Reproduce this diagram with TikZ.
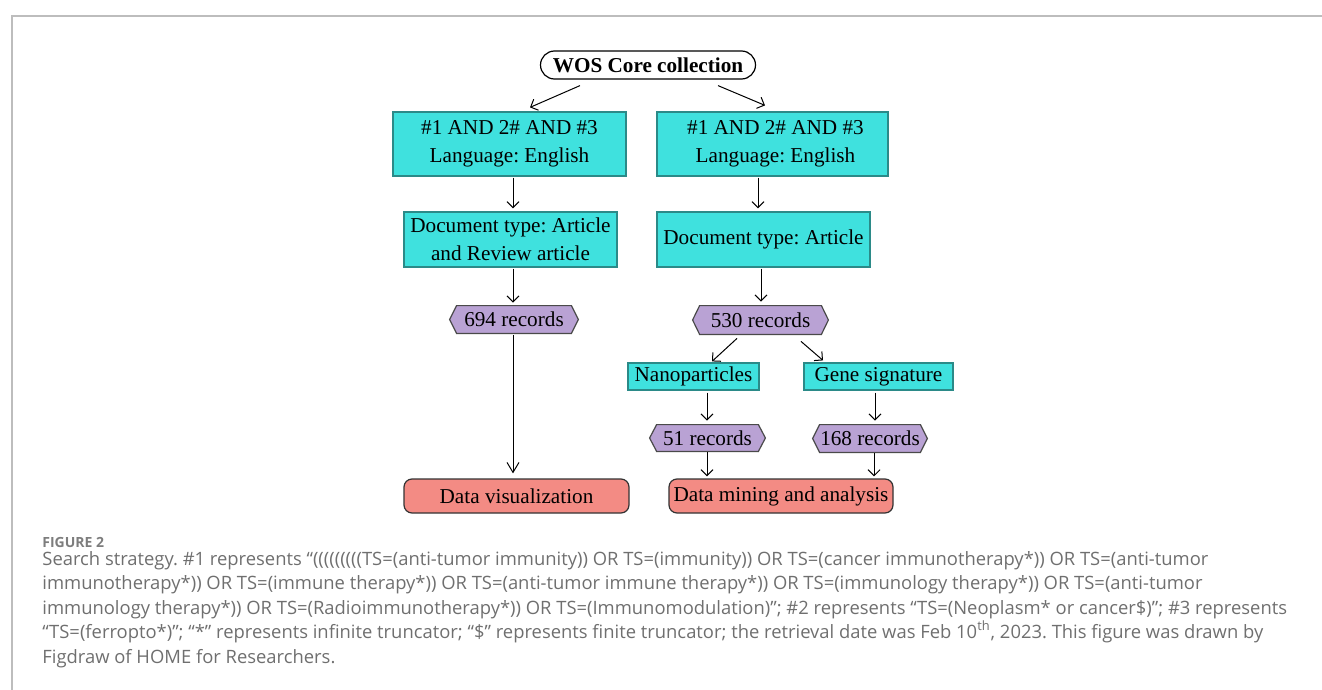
\documentclass[tikz,border=0pt]{standalone}
\usepackage{fontspec}
\setmainfont{Liberation Serif}
\newfontfamily\capfont{Open Sans}
\usetikzlibrary{arrows.meta,calc}
\definecolor{cyanfill}{HTML}{3FE1DE}
\definecolor{cyanline}{HTML}{2B8A88}
\definecolor{purpfill}{HTML}{B9A2D4}
\definecolor{purpline}{HTML}{4A4A4A}
\definecolor{redfill}{HTML}{F38B84}
\definecolor{redline}{HTML}{333333}
\definecolor{capgray}{HTML}{6F6F6F}
\definecolor{framegray}{HTML}{BDBDBD}
\pgfdeclarelayer{bg}
\pgfsetlayers{bg,main}
\frenchspacing
\tikzset{
  boxtext/.style={font=\fontsize{10.6}{14}\selectfont, align=center, inner sep=0pt},
  cbox/.style={boxtext, draw=cyanline, fill=cyanfill, line width=0.6pt},
  rbox/.style={boxtext, draw=redline, fill=redfill, line width=0.6pt, rounded corners=4pt},
  hexnode/.style={boxtext, inner sep=0pt},
  hexshape/.style={draw=purpline, fill=purpfill, line width=0.6pt},
  arr/.style={draw, line width=0.5pt, -{Straight Barb[length=3pt,width=6pt]}},
  bigarr/.style={draw, line width=0.5pt, -{Straight Barb[length=5pt,width=6pt]}},
  captext/.style={font=\capfont\fontsize{9.2}{12}\selectfont, text=capgray, anchor=base west, inner sep=0pt},
}
\newcommand{\hexbg}[1]{%
  \begin{pgfonlayer}{bg}
    \path[hexshape] (#1.west) -- ($(#1.north west)+(7,0)$) -- ($(#1.north east)+(-7,0)$) -- (#1.east) -- ($(#1.south east)+(-7,0)$) -- ($(#1.south west)+(7,0)$) -- cycle;
  \end{pgfonlayer}}
\begin{document}
\begin{tikzpicture}[x=0.5pt,y=-0.5pt]
\useasboundingbox (0,0) rectangle (1322,690);
% frame
\draw[framegray, line width=1pt] (12,690) -- (12,16) -- (1322,16);

% nodes
\node[boxtext, draw=black, line width=0.6pt, rounded corners=7pt, minimum width=107.5pt, minimum height=14pt, font=\fontsize{10.6}{14}\selectfont\bfseries] (wos) at (648,65) {WOS Core collection};
\node[cbox, minimum width=116.5pt, minimum height=32pt] (L1) at (509.5,144) {\#1 AND 2\# AND \#3\\Language: English};
\node[cbox, minimum width=115.5pt, minimum height=32pt] (R1) at (772.5,144) {\hspace*{3pt}\#1 AND 2\# AND \#3\\\hspace*{3pt}Language: English};
\node[cbox, minimum width=106.5pt, minimum height=27.5pt] (L2) at (510.5,239.5) {Document type: Article\\and Review article};
\node[cbox, minimum width=106.5pt, minimum height=27.5pt] (R2) at (763.5,239.5) {Document type: Article};
\node[hexnode, minimum width=64pt, minimum height=13.5pt] (h694) at (514,319.5) {694 records};
\node[hexnode, minimum width=67.5pt, minimum height=14pt] (h530) at (760.5,320) {530 records};
\node[cbox, minimum width=65.5pt, minimum height=13.5pt] (nano) at (693.5,376.5) {Nanoparticles};
\node[cbox, minimum width=74.5pt, minimum height=13.5pt] (gene) at (878.5,376.5) {Gene signature};
\node[hexnode, minimum width=57.5pt, minimum height=13pt] (h51) at (707.5,438) {51 records};
\node[hexnode, minimum width=57pt, minimum height=13.5pt] (h168) at (870,438.5) {168 records};
\node[rbox, minimum width=112.5pt, minimum height=17pt] (dv) at (516.5,496) {Data visualization};
\node[rbox, minimum width=112pt, minimum height=17pt] (dm) at (781,496) {Data mining and analysis};
\hexbg{h694}\hexbg{h530}\hexbg{h51}\hexbg{h168}

% connectors
\draw[arr] ($(wos.south)+(-68,6)$) -- ($(L1.north)+(20.5,-4)$);
\draw[arr] ($(wos.south)+(70,6)$) -- ($(R1.north)+(-7.5,-6)$);
\draw[arr] ($(L1.south)+(3.5,1)$) -- ($(L2.north)+(2.5,-3)$);
\draw[arr] ($(R1.south)+(-14.5,1)$) -- ($(R2.north)+(-5.5,-3)$);
\draw[arr] ($(L2.south)+(2.5,1)$) -- ($(h694.north)+(-1,-3)$);
\draw[arr] ($(R2.south)+(-2.5,1)$) -- ($(h530.north)+(0.5,-4)$);
\draw[arr] ($(h530.south)+(-23.5,4)$) -- ($(nano.north)+(18.5,-1)$);
\draw[arr] ($(h530.south)+(40.5,7)$) -- ($(gene.north)+(-55.5,-2)$);
\draw[arr] ($(nano.south)+(13.5,2)$) -- ($(h51.north)+(-0.5,-4)$);
\draw[arr] ($(gene.south)+(-3.5,2)$) -- ($(h168.north)+(5,-4)$);
\draw[bigarr] ($(h694.south)+(-1,2)$) -- ($(dv.north)+(-3.5,-5)$);
\draw[arr] ($(h51.south)+(-0.5,1)$) -- ($(dm.north)+(-74,-2)$);
\draw[arr] ($(h168.south)+(4,1)$) -- ($(dm.north)+(93,-2)$);

% caption
\node[captext, font=\capfont\fontsize{7}{9}\selectfont\bfseries, text=capgray!90] (figlab) at (42,547) {FIGURE 2};
\node[captext] (c1) at (42,565) {Search strategy. \#1 represents “(((((((((TS=(anti-tumor immunity)) OR TS=(immunity)) OR TS=(cancer immunotherapy*)) OR TS=(anti-tumor};
\node[captext] (c2) at (42,589.5) {immunotherapy*)) OR TS=(immune therapy*)) OR TS=(anti-tumor immune therapy*)) OR TS=(immunology therapy*)) OR TS=(anti-tumor};
\node[captext] (c3) at (42,614) {immunology therapy*)) OR TS=(Radioimmunotherapy*)) OR TS=(Immunomodulation)”; \#2 represents “TS=(Neoplasm* or cancer\$)”; \#3 represents};
\node[captext] (c4) at (42,638.5) {“TS=(ferropto*)”; “*” represents infinite truncator; “\$” represents finite truncator; the retrieval date was Feb 10\textsuperscript{th}, 2023. This figure was drawn by};
\node[captext] (c5) at (42,663) {Figdraw of HOME for Researchers.};
\end{tikzpicture}
\end{document}
